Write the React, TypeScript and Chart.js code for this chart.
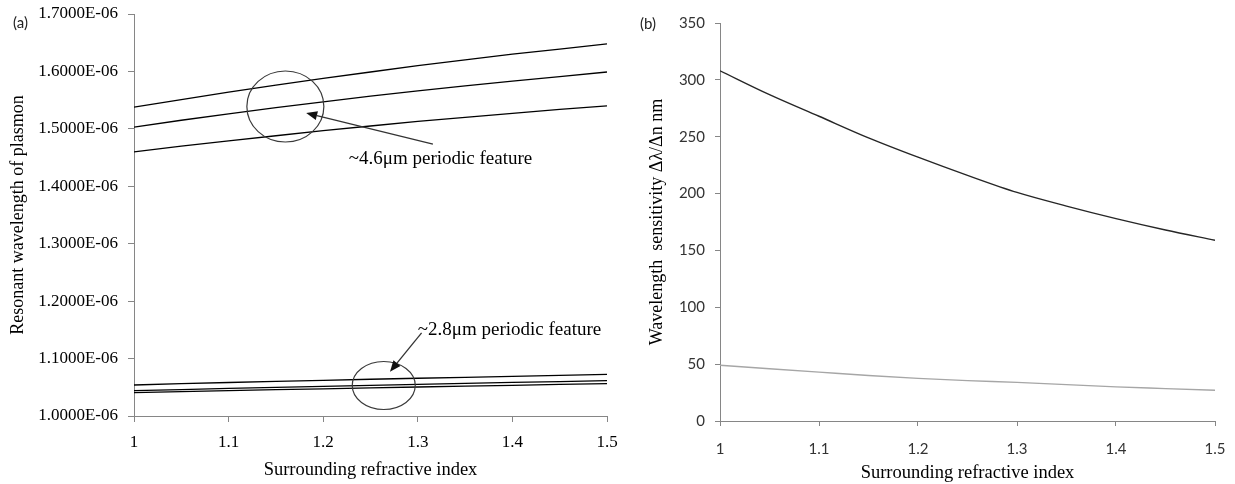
import React, { useEffect, useRef } from "react";
import { Chart, registerables } from "chart.js";
Chart.register(...registerables);

// ---------- DATA ----------
const refractiveIndex = [1.0, 1.05, 1.1, 1.15, 1.2, 1.25, 1.3, 1.35, 1.4, 1.45, 1.5];

// Panel (a): resonant wavelength (m)
const feature46Upper = [1.538e-6, 1.551e-6, 1.564e-6, 1.576e-6, 1.588e-6, 1.599e-6, 1.61e-6, 1.62e-6, 1.63e-6, 1.639e-6, 1.648e-6];
const feature46Middle = [1.503e-6, 1.515e-6, 1.526e-6, 1.537e-6, 1.547e-6, 1.557e-6, 1.566e-6, 1.575e-6, 1.583e-6, 1.591e-6, 1.599e-6];
const feature46Lower = [1.46e-6, 1.47e-6, 1.479e-6, 1.488e-6, 1.497e-6, 1.505e-6, 1.513e-6, 1.52e-6, 1.527e-6, 1.534e-6, 1.54e-6];
const feature28Upper = [1.054e-6, 1.0562e-6, 1.0583e-6, 1.0603e-6, 1.0622e-6, 1.064e-6, 1.0657e-6, 1.0674e-6, 1.0691e-6, 1.0708e-6, 1.0724e-6];
const feature28Middle = [1.0441e-6, 1.0461e-6, 1.048e-6, 1.0499e-6, 1.0517e-6, 1.0535e-6, 1.0552e-6, 1.0569e-6, 1.0585e-6, 1.06e-6, 1.0615e-6];
const feature28Lower = [1.0406e-6, 1.0424e-6, 1.0441e-6, 1.0458e-6, 1.0474e-6, 1.049e-6, 1.0505e-6, 1.052e-6, 1.0535e-6, 1.0549e-6, 1.0563e-6];

// Panel (b): wavelength sensitivity (nm/RIU)
const sensitivity46 = [308, 287, 268, 249, 232, 216, 201, 189, 178, 168, 159];
const sensitivity28 = [49, 46, 43, 40, 37.5, 35.5, 34, 32, 30, 28.5, 27];

// Tick values
const xTicks = [1, 1.1, 1.2, 1.3, 1.4, 1.5];
const yTicksA = [1.0e-6, 1.1e-6, 1.2e-6, 1.3e-6, 1.4e-6, 1.5e-6, 1.6e-6, 1.7e-6];
const yTicksB = [0, 50, 100, 150, 200, 250, 300, 350];

// Annotations (data units)
const ellipse46 = { n: 1.16, v: 1.5389e-6 };
const arrow46 = { fromN: 1.316, fromV: 1.4735e-6, toN: 1.182, toV: 1.5275e-6 };
const label46 = { n: 1.227, v: 1.4475e-6, text: "~4.6\u03bcm periodic feature" };
const ellipse28 = { n: 1.264, v: 1.0531e-6 };
const arrow28 = { fromN: 1.304, fromV: 1.1446e-6, toN: 1.2706, toV: 1.0772e-6 };
const label28 = { n: 1.3, v: 1.1498e-6, text: "~2.8\u03bcm periodic feature" };

const SERIF = "'Liberation Serif', 'Times New Roman', serif";
const SANS = "Lato, 'Open Sans', sans-serif";
const AXIS = "#868686";

const toXY = (ys: number[]) => ys.map((y, i) => ({ x: refractiveIndex[i], y }));

const zeroPad = (s: any) => {
  s.paddingTop = 0;
  s.paddingBottom = 0;
  s.paddingLeft = 0;
  s.paddingRight = 0;
};

function drawArrow(ctx: CanvasRenderingContext2D, x1: number, y1: number, x2: number, y2: number) {
  const ang = Math.atan2(y2 - y1, x2 - x1);
  const hl = 11, hw = 4.5;
  const bx = x2 - hl * Math.cos(ang), by = y2 - hl * Math.sin(ang);
  ctx.beginPath();
  ctx.moveTo(x1, y1);
  ctx.lineTo(bx, by);
  ctx.strokeStyle = "#333";
  ctx.lineWidth = 1.3;
  ctx.stroke();
  ctx.beginPath();
  ctx.moveTo(x2, y2);
  ctx.lineTo(bx + hw * Math.sin(ang), by - hw * Math.cos(ang));
  ctx.lineTo(bx - hw * Math.sin(ang), by + hw * Math.cos(ang));
  ctx.closePath();
  ctx.fillStyle = "#111";
  ctx.fill();
}

const annotPluginA = {
  id: "annotA",
  afterDatasetsDraw(chart: any) {
    const { ctx, scales } = chart;
    const x = scales.x, y = scales.y;
    ctx.save();
    ctx.strokeStyle = "#3a3a3a";
    ctx.lineWidth = 1.2;
    ctx.beginPath();
    ctx.ellipse(x.getPixelForValue(ellipse46.n), y.getPixelForValue(ellipse46.v), 38.5, 35.5, 0, 0, Math.PI * 2);
    ctx.stroke();
    ctx.beginPath();
    ctx.ellipse(x.getPixelForValue(ellipse28.n), y.getPixelForValue(ellipse28.v), 31.5, 24, 0, 0, Math.PI * 2);
    ctx.stroke();
    drawArrow(ctx, x.getPixelForValue(arrow46.fromN), y.getPixelForValue(arrow46.fromV), x.getPixelForValue(arrow46.toN), y.getPixelForValue(arrow46.toV));
    drawArrow(ctx, x.getPixelForValue(arrow28.fromN), y.getPixelForValue(arrow28.fromV), x.getPixelForValue(arrow28.toN), y.getPixelForValue(arrow28.toV));
    ctx.fillStyle = "#000";
    ctx.font = `19px ${SERIF}`;
    ctx.textAlign = "left";
    ctx.textBaseline = "middle";
    ctx.fillText(label46.text, x.getPixelForValue(label46.n), y.getPixelForValue(label46.v));
    ctx.fillText(label28.text, x.getPixelForValue(label28.n), y.getPixelForValue(label28.v));
    ctx.font = `15px ${SANS}`;
    ctx.fillStyle = "#222";
    ctx.fillText("(a)", 13, 23);
    ctx.restore();
  },
};

const annotPluginB = {
  id: "annotB",
  afterDraw(chart: any) {
    const { ctx } = chart;
    ctx.save();
    ctx.font = `15px ${SANS}`;
    ctx.fillStyle = "#222";
    ctx.textAlign = "left";
    ctx.textBaseline = "middle";
    ctx.fillText("(b)", 20, 24);
    ctx.restore();
  },
};

function PanelA() {
  const ref = useRef<HTMLCanvasElement>(null);
  useEffect(() => {
    const line = (data: number[]) => ({
      data: toXY(data),
      borderColor: "#000",
      borderWidth: 1.3,
      pointRadius: 0,
      tension: 0,
    });
    const chart = new Chart(ref.current!, {
      type: "line",
      data: {
        datasets: [
          line(feature46Upper),
          line(feature46Middle),
          line(feature46Lower),
          line(feature28Upper),
          line(feature28Middle),
          line(feature28Lower),
        ],
      },
      options: {
        animation: false,
        responsive: false,
        devicePixelRatio: 1,
        layout: { padding: { top: 14, right: 13, left: 0, bottom: 0 } },
        plugins: { legend: { display: false }, tooltip: { enabled: false } },
        scales: {
          x: {
            type: "linear",
            min: 1,
            max: 1.5,
            afterBuildTicks: (s: any) => { s.ticks = xTicks.map((v) => ({ value: v })); },
            afterFit: (s: any) => { s.height = 68; zeroPad(s); },
            grid: { display: true, drawOnChartArea: false, drawTicks: true, tickLength: 6, color: AXIS },
            border: { display: true, color: AXIS, width: 1 },
            ticks: {
              color: "#000",
              font: { family: SERIF, size: 17 },
              padding: 10,
              maxRotation: 0,
              callback: (v: any) => String(Number(Number(v).toFixed(1))),
            },
            title: {
              display: true,
              text: "Surrounding refractive index",
              color: "#000",
              font: { family: SERIF, size: 18.5 },
              padding: { top: 0, bottom: 3 },
            },
          },
          y: {
            min: 1.0e-6,
            max: 1.7e-6,
            afterBuildTicks: (s: any) => { s.ticks = yTicksA.map((v) => ({ value: v })); },
            afterFit: (s: any) => { s.width = 134; zeroPad(s); },
            grid: { display: true, drawOnChartArea: false, drawTicks: true, tickLength: 6, color: AXIS },
            border: { display: true, color: AXIS, width: 1 },
            ticks: {
              color: "#000",
              font: { family: SERIF, size: 17 },
              padding: 10,
              callback: (v: any) => (Number(v) * 1e6).toFixed(4) + "E-06",
            },
            title: {
              display: true,
              text: "Resonant wavelength of plasmon",
              color: "#000",
              font: { family: SERIF, size: 18 },
              padding: { top: 7, bottom: 0 },
            },
          },
        },
      },
      plugins: [annotPluginA],
    } as any);
    return () => chart.destroy();
  }, []);
  return <canvas ref={ref} width={620} height={484} style={{ position: "absolute", left: 0, top: 0 }} />;
}

function PanelB() {
  const ref = useRef<HTMLCanvasElement>(null);
  useEffect(() => {
    const chart = new Chart(ref.current!, {
      type: "line",
      data: {
        datasets: [
          {
            data: toXY(sensitivity46),
            borderColor: "#262626",
            borderWidth: 1.4,
            pointRadius: 0,
            cubicInterpolationMode: "monotone",
          },
          {
            data: toXY(sensitivity28),
            borderColor: "#a6a6a6",
            borderWidth: 1.4,
            pointRadius: 0,
            cubicInterpolationMode: "monotone",
          },
        ],
      },
      options: {
        animation: false,
        responsive: false,
        devicePixelRatio: 1,
        layout: { padding: { top: 23, right: 20, left: 0, bottom: 0 } },
        plugins: { legend: { display: false }, tooltip: { enabled: false } },
        scales: {
          x: {
            type: "linear",
            min: 1,
            max: 1.5,
            afterBuildTicks: (s: any) => { s.ticks = xTicks.map((v) => ({ value: v })); },
            afterFit: (s: any) => { s.height = 63; zeroPad(s); },
            grid: { display: true, drawOnChartArea: false, drawTicks: true, tickLength: 5, color: AXIS },
            border: { display: true, color: AXIS, width: 1 },
            ticks: {
              color: "#333",
              font: { family: SANS, size: 15 },
              padding: 14,
              maxRotation: 0,
              callback: (v: any) => String(Number(Number(v).toFixed(1))),
            },
            title: {
              display: true,
              text: "Surrounding refractive index",
              color: "#000",
              font: { family: SERIF, size: 18.5 },
              padding: { top: 0, bottom: 0 },
            },
          },
          y: {
            min: 0,
            max: 350,
            afterBuildTicks: (s: any) => { s.ticks = yTicksB.map((v) => ({ value: v })); },
            afterFit: (s: any) => { s.width = 100; zeroPad(s); },
            grid: { display: true, drawOnChartArea: false, drawTicks: true, tickLength: 5, color: AXIS },
            border: { display: true, color: AXIS, width: 1 },
            ticks: {
              color: "#333",
              font: { family: SANS, size: 15 },
              padding: 10,
            },
            title: {
              display: true,
              text: "Wavelength  sensitivity \u0394\u03bb/\u0394n nm",
              color: "#000",
              font: { family: SERIF, size: 18 },
              padding: { top: 26, bottom: 0 },
            },
          },
        },
      },
      plugins: [annotPluginB],
    } as any);
    return () => chart.destroy();
  }, []);
  return <canvas ref={ref} width={615} height={484} style={{ position: "absolute", left: 620, top: 0 }} />;
}

export default function App() {
  return (
    <div style={{ position: "fixed", left: 0, top: 0, width: 1235, height: 484, background: "#fff" }}>
      <PanelA />
      <PanelB />
    </div>
  );
}
